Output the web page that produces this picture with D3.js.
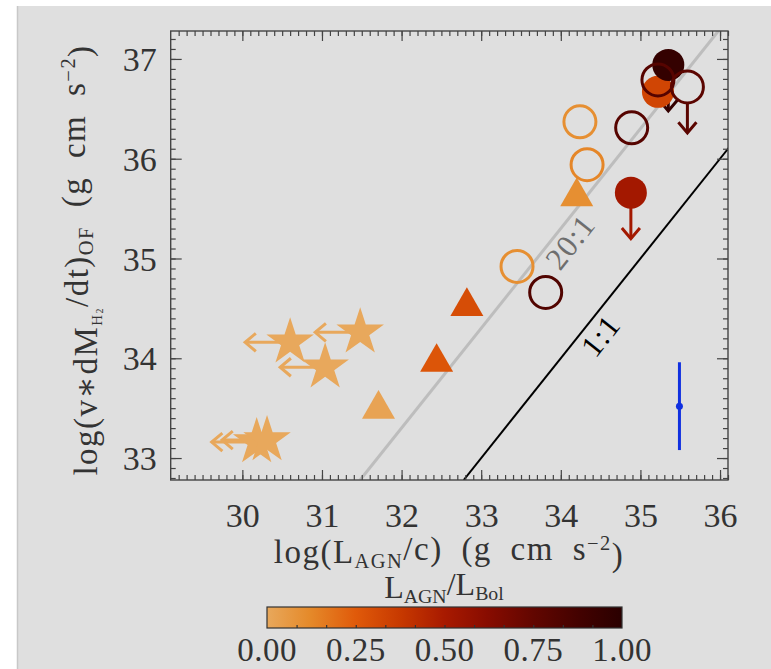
<!DOCTYPE html>
<html>
<head>
<meta charset="utf-8">
<script src="https://cdn.jsdelivr.net/npm/d3@7"></script>
<style>
  body { margin: 0; background: #fff; }
  svg text { font-family: "Liberation Serif", "DejaVu Serif", serif; }
</style>
</head>
<body>
<svg id="chart" width="771" height="669"></svg>
<script>
// values
const starX = [30.60, 31.48, 31.04, 30.18, 30.31]
const starY = [34.16, 34.26, 33.91, 33.16, 33.18]
const starC = [0.0, 0.0, 0.0, 0.0, 0.0]

const triX = [31.71, 32.44, 32.82, 34.20]
const triY = [33.49, 33.96, 34.52, 35.62]
const triC = [0.02, 0.27, 0.30, 0.10]

const openX = [33.45, 33.81, 34.24, 34.33, 34.89, 35.22, 35.59]
const openY = [34.92, 34.66, 36.37, 35.94, 36.31, 36.79, 36.72]
const openC = [0.10, 0.82, 0.10, 0.13, 0.80, 0.80, 0.78]
const openLimit = [false, false, false, false, false, false, true]

const fillX = [35.22, 35.35, 34.88]
const fillY = [36.67, 36.94, 35.66]
const fillC = [0.33, 0.95, 0.52]
const fillLimit = [false, true, true]

const errX = 35.49
const errY = 33.52
const errDy = 0.44

const xTicks = [30, 31, 32, 33, 34, 35, 36]
const yTicks = [33, 34, 35, 36, 37]
const cbTicks = [0, 0.25, 0.5, 0.75, 1]
const ratioLines = [{ ratio: 20, label: '20:1' }, { ratio: 1, label: '1:1' }]

const colorStops = [0, 0.12, 0.25, 0.38, 0.5, 0.62, 0.75, 0.88, 1]
const colorHex = ['#e8a85c', '#e58a2a', '#e05a0a', '#c63800', '#a81a00', '#880c00', '#620600', '#430200', '#2a0000']

const svg = d3.select('#chart')
const color = d3.scaleLinear().domain(colorStops).range(colorHex)

// gray panel
svg.append('rect').attr('x', 17).attr('y', 6).attr('width', 760).attr('height', 670)
  .attr('fill', '#dfdfdf')
svg.append('line').attr('x1', 17.5).attr('x2', 17.5).attr('y1', 6).attr('y2', 669)
  .attr('stroke', '#c8c8c8').attr('stroke-width', 1.5)

const pLeft = 170.7
const pRight = 728
const pTop = 31
const pBottom = 480

const x = d3.scaleLinear().domain([29.1, 36.1]).range([pLeft, pRight])
const y = d3.scaleLinear().domain([32.78, 37.28]).range([pBottom, pTop])

const plot = svg.append('g')
plot.append('clipPath').attr('id', 'clip').append('rect')
  .attr('x', pLeft).attr('y', pTop).attr('width', pRight - pLeft).attr('height', pBottom - pTop)

// ratio lines
const lines = plot.append('g').attr('clip-path', 'url(#clip)')
ratioLines.forEach((r) => {
  const off = Math.log10(r.ratio)
  lines.append('line')
    .attr('x1', x(32.78 - off)).attr('y1', y(32.78))
    .attr('x2', x(37.28 - off)).attr('y2', y(37.28))
    .attr('stroke', r.ratio === 1 ? '#000' : '#bdbdbd')
    .attr('stroke-width', r.ratio === 1 ? 2 : 3)
})
const angle = -Math.atan((y(33) - y(34)) / (x(34) - x(33))) * 180 / Math.PI
plot.append('text').text('20:1')
  .attr('transform', `translate(${x(33.92) + 24},${y(35.22) + 12}) rotate(${angle})`)
  .attr('text-anchor', 'middle').attr('font-size', 31).attr('fill', '#6e6e6e')
  .style('letter-spacing', '1px')
plot.append('text').text('1:1')
  .attr('transform', `translate(${x(34.3) + 24},${y(34.3) + 14}) rotate(${angle})`)
  .attr('text-anchor', 'middle').attr('font-size', 31).attr('fill', '#000')
  .style('letter-spacing', '1px')

// arrow helper (upper limits)
const arrow = (x0, y0, dx, dy, col) => {
  const x1 = x0 + dx
  const y1 = y0 + dy
  const a = Math.atan2(dy, dx)
  const h = 14
  const g = plot.append('g').attr('stroke', col).attr('stroke-width', 3).attr('fill', 'none')
  g.append('line').attr('x1', x0).attr('y1', y0).attr('x2', x1).attr('y2', y1)
  g.append('path').attr('d', d3.line()([
    [x1 - h * Math.cos(a - 0.7), y1 - h * Math.sin(a - 0.7)],
    [x1, y1],
    [x1 - h * Math.cos(a + 0.7), y1 - h * Math.sin(a + 0.7)]
  ]))
}

// stars with left arrows
starX.forEach((v, i) => arrow(x(v), y(starY[i]), -45, 0, color(starC[i])))
plot.selectAll('.star').data(starX).join('path')
  .attr('transform', (d, i) => `translate(${x(d)},${y(starY[i])})`)
  .attr('d', d3.symbol(d3.symbolStar, 25 * 25 / 0.8908))
  .attr('fill', (d, i) => color(starC[i]))

// triangles
plot.selectAll('.tri').data(triX).join('path')
  .attr('transform', (d, i) => `translate(${x(d)},${y(triY[i])})`)
  .attr('d', d3.symbol(d3.symbolTriangle, Math.sqrt(3) / 4 * 33 * 33))
  .attr('fill', (d, i) => color(triC[i]))

// filled circles
fillX.forEach((v, i) => {
  if (fillLimit[i]) arrow(x(v), y(fillY[i]), 0, 46, color(fillC[i]))
})
plot.selectAll('.fill').data(fillX).join('circle')
  .attr('cx', (d) => x(d)).attr('cy', (d, i) => y(fillY[i])).attr('r', 16)
  .attr('fill', (d, i) => color(fillC[i]))

// open circles
openX.forEach((v, i) => {
  if (openLimit[i]) arrow(x(v), y(openY[i]) + 16, 0, 30, color(openC[i]))
})
plot.selectAll('.open').data(openX).join('circle')
  .attr('cx', (d) => x(d)).attr('cy', (d, i) => y(openY[i])).attr('r', 16)
  .attr('fill', 'none').attr('stroke-width', 3)
  .attr('stroke', (d, i) => color(openC[i]))

// typical error bar
plot.append('line').attr('x1', x(errX)).attr('x2', x(errX))
  .attr('y1', y(errY - errDy)).attr('y2', y(errY + errDy))
  .attr('stroke', '#1030e0').attr('stroke-width', 3)
plot.append('circle').attr('cx', x(errX)).attr('cy', y(errY)).attr('r', 3.5).attr('fill', '#1030e0')

// frame and ticks on four sides
const minorX = d3.range(292, 362).map((d) => d / 10)
const minorY = d3.range(328, 373).map((d) => d / 10)
const axisStyle = (g) => {
  g.select('.domain').remove()
  g.selectAll('line').attr('stroke', '#444').attr('stroke-width', 1.2)
}
const addAxis = (axis, tr) => plot.append('g').attr('transform', tr).call(axis).call(axisStyle)
addAxis(d3.axisBottom(x).tickValues(minorX).tickSize(-5).tickFormat(''), `translate(0,${pBottom})`)
addAxis(d3.axisTop(x).tickValues(minorX).tickSize(-5).tickFormat(''), `translate(0,${pTop})`)
addAxis(d3.axisLeft(y).tickValues(minorY).tickSize(-5).tickFormat(''), `translate(${pLeft},0)`)
addAxis(d3.axisRight(y).tickValues(minorY).tickSize(-5).tickFormat(''), `translate(${pRight},0)`)
addAxis(d3.axisTop(x).tickValues(xTicks).tickSize(-10).tickFormat(''), `translate(0,${pTop})`)
addAxis(d3.axisRight(y).tickValues(yTicks).tickSize(-11).tickFormat(''), `translate(${pRight},0)`)

const xAxis = addAxis(d3.axisBottom(x).tickValues(xTicks).tickSize(-10).tickPadding(23).tickFormat(d3.format('d')),
  `translate(0,${pBottom})`)
const yAxis = addAxis(d3.axisLeft(y).tickValues(yTicks).tickSize(-11).tickPadding(14).tickFormat(d3.format('d')),
  `translate(${pLeft},0)`)
;[xAxis, yAxis].forEach((g) => g.selectAll('text')
  .attr('font-size', 34).attr('fill', '#333').style('font-family', '"Liberation Serif", serif'))
xAxis.selectAll('text').attr('dy', '0.71em')
yAxis.selectAll('text').attr('dy', '0.34em')

plot.append('rect').attr('x', pLeft).attr('y', pTop).attr('width', pRight - pLeft).attr('height', pBottom - pTop)
  .attr('fill', 'none').attr('stroke', '#444').attr('stroke-width', 1.4)

// axis titles
const sub = (t, s) => t.append('tspan').text(s).attr('font-size', '62%').attr('dy', '0.25em')
const back = (t, s, dy) => t.append('tspan').text(s).attr('dy', dy)

const xt = svg.append('text').attr('x', 449).attr('y', 563).attr('text-anchor', 'middle')
  .attr('font-size', 33).attr('fill', '#333')
  .style('letter-spacing', '1.5px').style('word-spacing', '9px')
xt.append('tspan').text('log(L')
sub(xt, 'AGN')
back(xt, '/c) (g cm s', '-0.25em')
xt.append('tspan').text('−2').attr('font-size', '62%').attr('dy', '-0.5em')
back(xt, ')', '0.5em')

const yt = svg.append('text').attr('transform', 'translate(97,260) rotate(-90)').attr('text-anchor', 'middle')
  .attr('font-size', 33).attr('fill', '#333')
  .style('letter-spacing', '1.5px').style('word-spacing', '9px')
yt.append('tspan').text('log(v∗dM')
yt.append('tspan').text('H').attr('font-size', '45%').attr('dy', '0.35em')
yt.append('tspan').text('2').attr('font-size', '30%').attr('dy', '0.1em')
back(yt, '/dt)', '-0.45em')
sub(yt, 'OF')
back(yt, ' (g cm s', '-0.25em')
yt.append('tspan').text('−2').attr('font-size', '62%').attr('dy', '-0.5em')
back(yt, ')', '0.5em')

// colorbar
const cb = d3.scaleLinear().domain([0, 1]).range([267, 622])
const defs = svg.append('defs')
const grad = defs.append('linearGradient').attr('id', 'cbgrad')
colorStops.forEach((s, i) => grad.append('stop').attr('offset', s).attr('stop-color', colorHex[i]))
svg.append('rect').attr('x', cb(0)).attr('y', 607).attr('width', cb(1) - cb(0)).attr('height', 21)
  .attr('fill', 'url(#cbgrad)')
const cbAxis = svg.append('g').attr('transform', 'translate(0,628)')
  .call(d3.axisBottom(cb).tickValues(d3.range(1, 12).map((d) => d / 12)).tickSize(-3).tickFormat(''))
  .call(axisStyle)
cbAxis.selectAll('line').attr('stroke', '#333')
svg.append('rect').attr('x', cb(0)).attr('y', 607).attr('width', cb(1) - cb(0)).attr('height', 21)
  .attr('fill', 'none').attr('stroke', '#333').attr('stroke-width', 1.2)
svg.append('g').selectAll('text').data(cbTicks).join('text')
  .attr('x', (d) => cb(d)).attr('y', 661).attr('text-anchor', 'middle')
  .attr('font-size', 33).attr('fill', '#333').style('letter-spacing', '0.5px').text(d3.format('.2f'))

const ct = svg.append('text').attr('x', 444).attr('y', 598).attr('text-anchor', 'middle')
  .attr('font-size', 32).attr('fill', '#333')
ct.append('tspan').text('L')
sub(ct, 'AGN')
back(ct, '/L', '-0.25em')
sub(ct, 'Bol')
</script>
</body>
</html>
